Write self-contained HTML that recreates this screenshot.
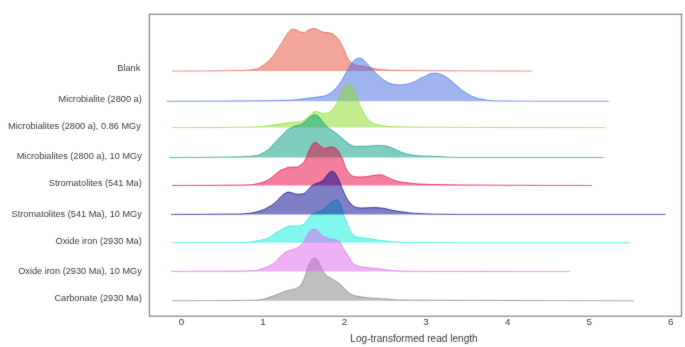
<!DOCTYPE html>
<html><head><meta charset="utf-8"><style>
html,body{margin:0;padding:0;background:#fff;}
body{width:685px;height:347px;overflow:hidden;position:relative;font-family:"Liberation Sans",sans-serif;}
svg{position:absolute;left:0;top:0;}
text{font-family:"Liberation Sans",sans-serif;}
</style></head><body>
<svg width="685" height="347" viewBox="0 0 685 347">
<defs><filter id="bl" x="0" y="0" width="685" height="347" filterUnits="userSpaceOnUse" color-interpolation-filters="sRGB"><feConvolveMatrix order="3" kernelMatrix="1 2 1 2 24 2 1 2 1" edgeMode="duplicate" preserveAlpha="true"/></filter></defs><g filter="url(#bl)">
<rect x="0" y="0" width="685" height="347" fill="#fff"/>
<path d="M171.80,71.10 C194.53,71.10 217.27,70.97 240.00,70.60 C243.50,70.54 247.00,70.25 250.50,69.90 C252.83,69.67 255.17,69.34 257.50,68.70 C259.07,68.27 260.63,67.04 262.20,66.00 C264.60,64.41 267.00,62.56 269.40,60.20 C271.33,58.30 273.27,55.65 275.20,53.00 C277.10,50.40 279.00,47.35 280.90,44.30 C282.60,41.57 284.30,38.21 286.00,35.70 C287.20,33.92 288.40,31.80 289.60,30.90 C290.67,30.10 291.73,29.20 292.80,29.20 C293.90,29.20 295.00,29.57 296.10,29.90 C297.30,30.26 298.50,31.54 299.70,31.80 C301.23,32.13 302.77,32.40 304.30,32.40 C305.73,32.40 307.17,30.44 308.60,29.90 C310.30,29.26 312.00,28.50 313.70,28.50 C315.37,28.50 317.03,29.29 318.70,29.90 C320.13,30.42 321.57,31.81 323.00,32.10 C324.93,32.49 326.87,32.45 328.80,32.80 C330.23,33.06 331.67,33.52 333.10,34.20 C334.70,34.96 336.30,36.69 337.90,38.60 C339.33,40.31 340.77,43.04 342.20,45.80 C343.13,47.60 344.07,49.84 345.00,52.00 C345.87,54.01 346.73,56.80 347.60,58.30 C348.47,59.80 349.33,60.90 350.20,61.80 C351.23,62.88 352.27,63.93 353.30,64.40 C354.73,65.05 356.17,65.50 357.60,65.70 C359.03,65.90 360.47,65.93 361.90,66.10 C363.27,66.26 364.63,66.54 366.00,66.80 C368.33,67.24 370.67,67.86 373.00,68.30 C375.33,68.74 377.67,69.29 380.00,69.50 C386.83,70.11 393.67,70.53 400.50,70.60 C420.33,70.81 440.17,70.83 460.00,70.90 C483.87,70.99 507.73,71.06 531.60,71.10 L531.60,71.10 L171.80,71.10 Z" fill="#e44c38" fill-opacity="0.5"/>
<path d="M171.80,71.10 L531.60,71.10" stroke="#e44c38" stroke-opacity="0.0" stroke-width="1.0" fill="none"/>
<path d="M171.80,71.10 C194.53,71.10 217.27,70.97 240.00,70.60 C243.50,70.54 247.00,70.25 250.50,69.90 C252.83,69.67 255.17,69.34 257.50,68.70 C259.07,68.27 260.63,67.04 262.20,66.00 C264.60,64.41 267.00,62.56 269.40,60.20 C271.33,58.30 273.27,55.65 275.20,53.00 C277.10,50.40 279.00,47.35 280.90,44.30 C282.60,41.57 284.30,38.21 286.00,35.70 C287.20,33.92 288.40,31.80 289.60,30.90 C290.67,30.10 291.73,29.20 292.80,29.20 C293.90,29.20 295.00,29.57 296.10,29.90 C297.30,30.26 298.50,31.54 299.70,31.80 C301.23,32.13 302.77,32.40 304.30,32.40 C305.73,32.40 307.17,30.44 308.60,29.90 C310.30,29.26 312.00,28.50 313.70,28.50 C315.37,28.50 317.03,29.29 318.70,29.90 C320.13,30.42 321.57,31.81 323.00,32.10 C324.93,32.49 326.87,32.45 328.80,32.80 C330.23,33.06 331.67,33.52 333.10,34.20 C334.70,34.96 336.30,36.69 337.90,38.60 C339.33,40.31 340.77,43.04 342.20,45.80 C343.13,47.60 344.07,49.84 345.00,52.00 C345.87,54.01 346.73,56.80 347.60,58.30 C348.47,59.80 349.33,60.90 350.20,61.80 C351.23,62.88 352.27,63.93 353.30,64.40 C354.73,65.05 356.17,65.50 357.60,65.70 C359.03,65.90 360.47,65.93 361.90,66.10 C363.27,66.26 364.63,66.54 366.00,66.80 C368.33,67.24 370.67,67.86 373.00,68.30 C375.33,68.74 377.67,69.29 380.00,69.50 C386.83,70.11 393.67,70.53 400.50,70.60 C420.33,70.81 440.17,70.83 460.00,70.90 C483.87,70.99 507.73,71.06 531.60,71.10" stroke="#e24428" stroke-opacity="0.7" stroke-width="0.85" fill="none" stroke-linejoin="round"/>
<path d="M166.90,101.25 C197.93,101.25 228.97,101.07 260.00,100.80 C268.77,100.72 277.53,100.55 286.30,100.30 C289.20,100.22 292.10,100.10 295.00,99.90 C297.90,99.70 300.80,99.17 303.70,98.80 C306.57,98.44 309.43,98.06 312.30,97.70 C315.20,97.33 318.10,97.05 321.00,96.60 C322.43,96.38 323.87,96.19 325.30,95.80 C326.73,95.41 328.17,94.47 329.60,93.60 C330.77,92.89 331.93,91.99 333.10,91.00 C334.40,89.89 335.70,88.59 337.00,87.10 C338.17,85.76 339.33,84.14 340.50,82.40 C341.63,80.71 342.77,78.67 343.90,76.70 C344.73,75.25 345.57,73.65 346.40,72.20 C347.43,70.40 348.47,68.62 349.50,67.00 C350.50,65.44 351.50,63.92 352.50,62.60 C353.33,61.50 354.17,60.14 355.00,59.60 C356.17,58.84 357.33,58.10 358.50,58.10 C359.63,58.10 360.77,58.43 361.90,58.80 C363.20,59.23 364.50,60.93 365.80,62.20 C367.70,64.06 369.60,66.68 371.50,68.70 C373.43,70.76 375.37,72.71 377.30,74.50 C379.23,76.29 381.17,78.10 383.10,79.50 C385.03,80.90 386.97,82.39 388.90,83.10 C390.80,83.80 392.70,84.39 394.60,84.60 C396.53,84.81 398.47,85.00 400.40,85.00 C402.27,85.00 404.13,84.48 406.00,84.20 C407.03,84.04 408.07,83.93 409.10,83.70 C410.13,83.47 411.17,83.00 412.20,82.60 C413.23,82.20 414.27,81.80 415.30,81.30 C416.33,80.80 417.37,80.09 418.40,79.50 C419.47,78.89 420.53,78.14 421.60,77.70 C422.40,77.37 423.20,77.21 424.00,76.90 C426.10,76.08 428.20,73.99 430.30,73.70 C431.93,73.48 433.57,73.30 435.20,73.30 C436.80,73.30 438.40,73.71 440.00,74.10 C441.63,74.50 443.27,75.41 444.90,76.30 C446.50,77.17 448.10,78.37 449.70,79.60 C451.30,80.83 452.90,82.41 454.50,83.80 C456.13,85.21 457.77,86.67 459.40,88.00 C461.00,89.30 462.60,90.61 464.20,91.70 C465.83,92.82 467.47,93.80 469.10,94.70 C470.70,95.58 472.30,96.47 473.90,97.10 C475.53,97.75 477.17,98.32 478.80,98.70 C480.87,99.18 482.93,99.36 485.00,99.80 C485.53,99.91 486.07,100.14 486.60,100.20 C490.67,100.65 494.73,100.83 498.80,100.90 C512.53,101.13 526.27,101.25 540.00,101.25 C562.93,101.25 585.87,101.25 608.80,101.25 L608.80,101.20 L166.90,101.20 Z" fill="#4169e1" fill-opacity="0.5"/>
<path d="M166.90,101.20 L608.80,101.20" stroke="#4169e1" stroke-opacity="0.0" stroke-width="1.0" fill="none"/>
<path d="M166.90,101.25 C197.93,101.25 228.97,101.07 260.00,100.80 C268.77,100.72 277.53,100.55 286.30,100.30 C289.20,100.22 292.10,100.10 295.00,99.90 C297.90,99.70 300.80,99.17 303.70,98.80 C306.57,98.44 309.43,98.06 312.30,97.70 C315.20,97.33 318.10,97.05 321.00,96.60 C322.43,96.38 323.87,96.19 325.30,95.80 C326.73,95.41 328.17,94.47 329.60,93.60 C330.77,92.89 331.93,91.99 333.10,91.00 C334.40,89.89 335.70,88.59 337.00,87.10 C338.17,85.76 339.33,84.14 340.50,82.40 C341.63,80.71 342.77,78.67 343.90,76.70 C344.73,75.25 345.57,73.65 346.40,72.20 C347.43,70.40 348.47,68.62 349.50,67.00 C350.50,65.44 351.50,63.92 352.50,62.60 C353.33,61.50 354.17,60.14 355.00,59.60 C356.17,58.84 357.33,58.10 358.50,58.10 C359.63,58.10 360.77,58.43 361.90,58.80 C363.20,59.23 364.50,60.93 365.80,62.20 C367.70,64.06 369.60,66.68 371.50,68.70 C373.43,70.76 375.37,72.71 377.30,74.50 C379.23,76.29 381.17,78.10 383.10,79.50 C385.03,80.90 386.97,82.39 388.90,83.10 C390.80,83.80 392.70,84.39 394.60,84.60 C396.53,84.81 398.47,85.00 400.40,85.00 C402.27,85.00 404.13,84.48 406.00,84.20 C407.03,84.04 408.07,83.93 409.10,83.70 C410.13,83.47 411.17,83.00 412.20,82.60 C413.23,82.20 414.27,81.80 415.30,81.30 C416.33,80.80 417.37,80.09 418.40,79.50 C419.47,78.89 420.53,78.14 421.60,77.70 C422.40,77.37 423.20,77.21 424.00,76.90 C426.10,76.08 428.20,73.99 430.30,73.70 C431.93,73.48 433.57,73.30 435.20,73.30 C436.80,73.30 438.40,73.71 440.00,74.10 C441.63,74.50 443.27,75.41 444.90,76.30 C446.50,77.17 448.10,78.37 449.70,79.60 C451.30,80.83 452.90,82.41 454.50,83.80 C456.13,85.21 457.77,86.67 459.40,88.00 C461.00,89.30 462.60,90.61 464.20,91.70 C465.83,92.82 467.47,93.80 469.10,94.70 C470.70,95.58 472.30,96.47 473.90,97.10 C475.53,97.75 477.17,98.32 478.80,98.70 C480.87,99.18 482.93,99.36 485.00,99.80 C485.53,99.91 486.07,100.14 486.60,100.20 C490.67,100.65 494.73,100.83 498.80,100.90 C512.53,101.13 526.27,101.25 540.00,101.25 C562.93,101.25 585.87,101.25 608.80,101.25" stroke="#4169e1" stroke-opacity="0.8" stroke-width="0.85" fill="none" stroke-linejoin="round"/>
<path d="M172.60,127.60 C198.40,127.60 224.20,127.51 250.00,127.20 C255.33,127.14 260.67,126.53 266.00,126.00 C268.23,125.78 270.47,125.42 272.70,125.10 C274.93,124.78 277.17,124.43 279.40,124.10 C281.63,123.77 283.87,123.46 286.10,123.10 C287.67,122.85 289.23,122.40 290.80,122.30 C292.60,122.19 294.40,122.18 296.20,122.10 C297.77,122.03 299.33,121.99 300.90,121.80 C302.03,121.67 303.17,120.80 304.30,120.10 C305.40,119.42 306.50,118.31 307.60,117.40 C309.07,116.18 310.53,115.16 312.00,113.70 C312.47,113.24 312.93,112.32 313.40,112.10 C314.27,111.70 315.13,111.40 316.00,111.40 C317.13,111.40 318.27,112.18 319.40,112.50 C320.57,112.83 321.73,113.40 322.90,113.40 C324.30,113.40 325.70,113.33 327.10,113.20 C327.97,113.12 328.83,112.44 329.70,111.90 C330.57,111.36 331.43,110.64 332.30,109.80 C333.00,109.12 333.70,108.28 334.40,107.30 C335.00,106.46 335.60,105.38 336.20,104.30 C336.70,103.40 337.20,102.46 337.70,101.40 C338.72,99.24 339.73,96.03 340.75,94.00 C341.93,91.63 343.12,89.66 344.30,88.00 C345.07,86.93 345.83,85.63 346.60,85.20 C347.23,84.85 347.87,84.50 348.50,84.50 C349.07,84.50 349.63,84.74 350.20,85.00 C350.70,85.23 351.20,85.88 351.70,86.50 C352.67,87.69 353.63,89.53 354.60,91.50 C355.57,93.47 356.53,96.26 357.50,98.70 C358.43,101.06 359.37,103.79 360.30,105.90 C361.50,108.61 362.70,111.05 363.90,113.10 C365.37,115.60 366.83,118.12 368.30,119.60 C369.87,121.19 371.43,122.52 373.00,123.20 C375.43,124.25 377.87,124.89 380.30,125.30 C384.40,125.99 388.50,126.60 392.60,126.70 C415.07,127.23 437.53,127.34 460.00,127.40 C508.53,127.53 557.07,127.60 605.60,127.60 L605.60,127.60 L172.60,127.60 Z" fill="#87dd20" fill-opacity="0.5"/>
<path d="M172.60,127.60 L605.60,127.60" stroke="#87dd20" stroke-opacity="0.0" stroke-width="1.0" fill="none"/>
<path d="M172.60,127.60 C198.40,127.60 224.20,127.51 250.00,127.20 C255.33,127.14 260.67,126.53 266.00,126.00 C268.23,125.78 270.47,125.42 272.70,125.10 C274.93,124.78 277.17,124.43 279.40,124.10 C281.63,123.77 283.87,123.46 286.10,123.10 C287.67,122.85 289.23,122.40 290.80,122.30 C292.60,122.19 294.40,122.18 296.20,122.10 C297.77,122.03 299.33,121.99 300.90,121.80 C302.03,121.67 303.17,120.80 304.30,120.10 C305.40,119.42 306.50,118.31 307.60,117.40 C309.07,116.18 310.53,115.16 312.00,113.70 C312.47,113.24 312.93,112.32 313.40,112.10 C314.27,111.70 315.13,111.40 316.00,111.40 C317.13,111.40 318.27,112.18 319.40,112.50 C320.57,112.83 321.73,113.40 322.90,113.40 C324.30,113.40 325.70,113.33 327.10,113.20 C327.97,113.12 328.83,112.44 329.70,111.90 C330.57,111.36 331.43,110.64 332.30,109.80 C333.00,109.12 333.70,108.28 334.40,107.30 C335.00,106.46 335.60,105.38 336.20,104.30 C336.70,103.40 337.20,102.46 337.70,101.40 C338.72,99.24 339.73,96.03 340.75,94.00 C341.93,91.63 343.12,89.66 344.30,88.00 C345.07,86.93 345.83,85.63 346.60,85.20 C347.23,84.85 347.87,84.50 348.50,84.50 C349.07,84.50 349.63,84.74 350.20,85.00 C350.70,85.23 351.20,85.88 351.70,86.50 C352.67,87.69 353.63,89.53 354.60,91.50 C355.57,93.47 356.53,96.26 357.50,98.70 C358.43,101.06 359.37,103.79 360.30,105.90 C361.50,108.61 362.70,111.05 363.90,113.10 C365.37,115.60 366.83,118.12 368.30,119.60 C369.87,121.19 371.43,122.52 373.00,123.20 C375.43,124.25 377.87,124.89 380.30,125.30 C384.40,125.99 388.50,126.60 392.60,126.70 C415.07,127.23 437.53,127.34 460.00,127.40 C508.53,127.53 557.07,127.60 605.60,127.60" stroke="#87dd20" stroke-opacity="0.8" stroke-width="0.85" fill="none" stroke-linejoin="round"/>
<path d="M169.30,157.55 C194.53,157.55 219.77,157.33 245.00,156.70 C247.17,156.65 249.33,156.41 251.50,156.20 C253.67,155.99 255.83,155.84 258.00,155.40 C259.33,155.13 260.67,154.20 262.00,153.50 C263.93,152.48 265.87,151.46 267.80,150.00 C269.70,148.57 271.60,146.29 273.50,144.30 C275.43,142.27 277.37,139.92 279.30,137.90 C280.83,136.29 282.37,134.81 283.90,133.30 C285.07,132.15 286.23,130.70 287.40,129.90 C288.53,129.12 289.67,128.67 290.80,128.10 C292.27,127.36 293.73,126.43 295.20,126.00 C296.93,125.49 298.67,125.47 300.40,124.90 C301.53,124.53 302.67,123.66 303.80,122.80 C304.97,121.91 306.13,120.38 307.30,119.30 C308.30,118.37 309.30,117.33 310.30,116.70 C311.03,116.24 311.77,116.03 312.50,115.60 C312.93,115.34 313.37,114.70 313.80,114.70 C314.23,114.70 314.67,114.81 315.10,114.90 C315.97,115.09 316.83,115.48 317.70,116.00 C318.57,116.52 319.43,117.61 320.30,118.60 C321.17,119.59 322.03,121.02 322.90,122.10 C323.77,123.18 324.63,124.17 325.50,125.10 C326.37,126.03 327.23,127.01 328.10,127.70 C328.90,128.34 329.70,128.76 330.50,129.30 C331.87,130.22 333.23,131.09 334.60,132.10 C336.00,133.14 337.40,134.34 338.80,135.50 C340.17,136.64 341.53,137.85 342.90,139.00 C344.30,140.18 345.70,141.47 347.10,142.50 C348.47,143.50 349.83,144.69 351.20,145.20 C352.60,145.73 354.00,146.30 355.40,146.30 C357.23,146.30 359.07,146.30 360.90,146.30 C363.50,146.30 366.10,146.20 368.70,146.10 C372.07,145.98 375.43,145.40 378.80,145.40 C381.20,145.40 383.60,145.74 386.00,146.10 C387.90,146.38 389.80,147.12 391.70,147.80 C393.63,148.49 395.57,149.53 397.50,150.40 C399.43,151.27 401.37,152.40 403.30,153.00 C405.70,153.75 408.10,154.30 410.50,154.70 C413.67,155.23 416.83,155.74 420.00,155.90 C425.47,156.18 430.93,156.20 436.40,156.40 C444.27,156.69 452.13,157.55 460.00,157.55 C507.87,157.55 555.73,157.55 603.60,157.55 L603.60,157.60 L169.30,157.60 Z" fill="#009b7d" fill-opacity="0.5"/>
<path d="M169.30,157.60 L603.60,157.60" stroke="#009b7d" stroke-opacity="0.0" stroke-width="1.0" fill="none"/>
<path d="M169.30,157.55 C194.53,157.55 219.77,157.33 245.00,156.70 C247.17,156.65 249.33,156.41 251.50,156.20 C253.67,155.99 255.83,155.84 258.00,155.40 C259.33,155.13 260.67,154.20 262.00,153.50 C263.93,152.48 265.87,151.46 267.80,150.00 C269.70,148.57 271.60,146.29 273.50,144.30 C275.43,142.27 277.37,139.92 279.30,137.90 C280.83,136.29 282.37,134.81 283.90,133.30 C285.07,132.15 286.23,130.70 287.40,129.90 C288.53,129.12 289.67,128.67 290.80,128.10 C292.27,127.36 293.73,126.43 295.20,126.00 C296.93,125.49 298.67,125.47 300.40,124.90 C301.53,124.53 302.67,123.66 303.80,122.80 C304.97,121.91 306.13,120.38 307.30,119.30 C308.30,118.37 309.30,117.33 310.30,116.70 C311.03,116.24 311.77,116.03 312.50,115.60 C312.93,115.34 313.37,114.70 313.80,114.70 C314.23,114.70 314.67,114.81 315.10,114.90 C315.97,115.09 316.83,115.48 317.70,116.00 C318.57,116.52 319.43,117.61 320.30,118.60 C321.17,119.59 322.03,121.02 322.90,122.10 C323.77,123.18 324.63,124.17 325.50,125.10 C326.37,126.03 327.23,127.01 328.10,127.70 C328.90,128.34 329.70,128.76 330.50,129.30 C331.87,130.22 333.23,131.09 334.60,132.10 C336.00,133.14 337.40,134.34 338.80,135.50 C340.17,136.64 341.53,137.85 342.90,139.00 C344.30,140.18 345.70,141.47 347.10,142.50 C348.47,143.50 349.83,144.69 351.20,145.20 C352.60,145.73 354.00,146.30 355.40,146.30 C357.23,146.30 359.07,146.30 360.90,146.30 C363.50,146.30 366.10,146.20 368.70,146.10 C372.07,145.98 375.43,145.40 378.80,145.40 C381.20,145.40 383.60,145.74 386.00,146.10 C387.90,146.38 389.80,147.12 391.70,147.80 C393.63,148.49 395.57,149.53 397.50,150.40 C399.43,151.27 401.37,152.40 403.30,153.00 C405.70,153.75 408.10,154.30 410.50,154.70 C413.67,155.23 416.83,155.74 420.00,155.90 C425.47,156.18 430.93,156.20 436.40,156.40 C444.27,156.69 452.13,157.55 460.00,157.55 C507.87,157.55 555.73,157.55 603.60,157.55" stroke="#009b7d" stroke-opacity="0.8" stroke-width="0.85" fill="none" stroke-linejoin="round"/>
<path d="M172.00,185.50 C194.67,185.50 217.33,185.37 240.00,185.10 C243.33,185.06 246.67,184.97 250.00,184.80 C252.00,184.70 254.00,184.35 256.00,184.00 C257.50,183.74 259.00,183.32 260.50,182.90 C262.00,182.48 263.50,182.01 265.00,181.40 C266.50,180.79 268.00,180.04 269.50,179.10 C270.77,178.31 272.03,177.16 273.30,176.10 C274.53,175.07 275.77,173.78 277.00,172.80 C278.27,171.80 279.53,170.70 280.80,170.10 C282.53,169.28 284.27,169.07 286.00,168.30 C286.37,168.14 286.73,167.81 287.10,167.70 C288.13,167.38 289.17,167.10 290.20,167.10 C291.60,167.10 293.00,167.10 294.40,167.10 C295.43,167.10 296.47,167.03 297.50,166.90 C298.17,166.82 298.83,166.21 299.50,165.80 C300.20,165.37 300.90,164.88 301.60,164.30 C302.30,163.72 303.00,163.10 303.70,162.20 C304.20,161.56 304.70,160.44 305.20,159.60 C305.73,158.71 306.27,158.16 306.80,157.00 C307.23,156.06 307.67,154.02 308.10,152.90 C308.80,151.09 309.50,149.81 310.20,148.40 C310.87,147.06 311.53,145.47 312.20,144.60 C312.80,143.82 313.40,142.98 314.00,142.80 C314.57,142.63 315.13,142.50 315.70,142.50 C316.40,142.50 317.10,143.04 317.80,143.50 C318.47,143.94 319.13,144.98 319.80,145.60 C320.63,146.38 321.47,147.34 322.30,147.70 C323.10,148.05 323.90,148.40 324.70,148.40 C325.63,148.40 326.57,147.92 327.50,147.70 C328.40,147.49 329.30,147.10 330.20,147.10 C331.13,147.10 332.07,147.19 333.00,147.30 C333.93,147.41 334.87,147.85 335.80,148.40 C336.47,148.79 337.13,149.65 337.80,150.50 C338.50,151.39 339.20,152.64 339.90,153.90 C340.37,154.74 340.83,155.81 341.30,156.70 C341.83,157.72 342.37,158.35 342.90,159.60 C343.37,160.70 343.83,162.87 344.30,164.20 C344.93,166.00 345.57,167.68 346.20,168.90 C346.97,170.38 347.73,171.54 348.50,172.50 C349.40,173.63 350.30,174.75 351.20,175.30 C352.30,175.97 353.40,176.57 354.50,176.70 C356.03,176.88 357.57,177.00 359.10,177.00 C361.40,177.00 363.70,176.88 366.00,176.70 C366.93,176.63 367.87,176.35 368.80,176.20 C370.83,175.87 372.87,175.54 374.90,175.30 C376.63,175.10 378.37,174.80 380.10,174.80 C381.27,174.80 382.43,175.17 383.60,175.50 C385.07,175.91 386.53,177.03 388.00,177.70 C389.77,178.50 391.53,179.28 393.30,179.90 C395.03,180.51 396.77,181.11 398.50,181.50 C400.83,182.02 403.17,182.41 405.50,182.70 C407.83,182.99 410.17,183.17 412.50,183.40 C415.00,183.64 417.50,184.00 420.00,184.10 C433.33,184.62 446.67,184.79 460.00,184.90 C503.97,185.27 547.93,185.50 591.90,185.50 L591.90,185.50 L172.00,185.50 Z" fill="#e5003b" fill-opacity="0.5"/>
<path d="M172.00,185.50 L591.90,185.50" stroke="#e5003b" stroke-opacity="0.0" stroke-width="1.0" fill="none"/>
<path d="M172.00,185.50 C194.67,185.50 217.33,185.37 240.00,185.10 C243.33,185.06 246.67,184.97 250.00,184.80 C252.00,184.70 254.00,184.35 256.00,184.00 C257.50,183.74 259.00,183.32 260.50,182.90 C262.00,182.48 263.50,182.01 265.00,181.40 C266.50,180.79 268.00,180.04 269.50,179.10 C270.77,178.31 272.03,177.16 273.30,176.10 C274.53,175.07 275.77,173.78 277.00,172.80 C278.27,171.80 279.53,170.70 280.80,170.10 C282.53,169.28 284.27,169.07 286.00,168.30 C286.37,168.14 286.73,167.81 287.10,167.70 C288.13,167.38 289.17,167.10 290.20,167.10 C291.60,167.10 293.00,167.10 294.40,167.10 C295.43,167.10 296.47,167.03 297.50,166.90 C298.17,166.82 298.83,166.21 299.50,165.80 C300.20,165.37 300.90,164.88 301.60,164.30 C302.30,163.72 303.00,163.10 303.70,162.20 C304.20,161.56 304.70,160.44 305.20,159.60 C305.73,158.71 306.27,158.16 306.80,157.00 C307.23,156.06 307.67,154.02 308.10,152.90 C308.80,151.09 309.50,149.81 310.20,148.40 C310.87,147.06 311.53,145.47 312.20,144.60 C312.80,143.82 313.40,142.98 314.00,142.80 C314.57,142.63 315.13,142.50 315.70,142.50 C316.40,142.50 317.10,143.04 317.80,143.50 C318.47,143.94 319.13,144.98 319.80,145.60 C320.63,146.38 321.47,147.34 322.30,147.70 C323.10,148.05 323.90,148.40 324.70,148.40 C325.63,148.40 326.57,147.92 327.50,147.70 C328.40,147.49 329.30,147.10 330.20,147.10 C331.13,147.10 332.07,147.19 333.00,147.30 C333.93,147.41 334.87,147.85 335.80,148.40 C336.47,148.79 337.13,149.65 337.80,150.50 C338.50,151.39 339.20,152.64 339.90,153.90 C340.37,154.74 340.83,155.81 341.30,156.70 C341.83,157.72 342.37,158.35 342.90,159.60 C343.37,160.70 343.83,162.87 344.30,164.20 C344.93,166.00 345.57,167.68 346.20,168.90 C346.97,170.38 347.73,171.54 348.50,172.50 C349.40,173.63 350.30,174.75 351.20,175.30 C352.30,175.97 353.40,176.57 354.50,176.70 C356.03,176.88 357.57,177.00 359.10,177.00 C361.40,177.00 363.70,176.88 366.00,176.70 C366.93,176.63 367.87,176.35 368.80,176.20 C370.83,175.87 372.87,175.54 374.90,175.30 C376.63,175.10 378.37,174.80 380.10,174.80 C381.27,174.80 382.43,175.17 383.60,175.50 C385.07,175.91 386.53,177.03 388.00,177.70 C389.77,178.50 391.53,179.28 393.30,179.90 C395.03,180.51 396.77,181.11 398.50,181.50 C400.83,182.02 403.17,182.41 405.50,182.70 C407.83,182.99 410.17,183.17 412.50,183.40 C415.00,183.64 417.50,184.00 420.00,184.10 C433.33,184.62 446.67,184.79 460.00,184.90 C503.97,185.27 547.93,185.50 591.90,185.50" stroke="#e5003b" stroke-opacity="0.8" stroke-width="0.85" fill="none" stroke-linejoin="round"/>
<path d="M172.00,242.80 C194.67,242.80 217.33,242.75 240.00,242.60 C242.67,242.58 245.33,242.52 248.00,242.40 C250.67,242.28 253.33,241.58 256.00,241.10 C258.00,240.74 260.00,240.36 262.00,239.90 C264.00,239.44 266.00,239.07 268.00,238.30 C269.00,237.91 270.00,237.19 271.00,236.50 C272.00,235.81 273.00,234.77 274.00,234.10 C275.33,233.20 276.67,232.61 278.00,231.80 C279.33,230.99 280.67,229.95 282.00,229.20 C283.33,228.45 284.67,227.70 286.00,227.20 C287.33,226.70 288.67,226.00 290.00,226.00 C291.03,226.00 292.07,226.00 293.10,226.00 C294.63,226.00 296.17,226.00 297.70,226.00 C298.83,226.00 299.97,225.76 301.10,225.50 C302.27,225.23 303.43,224.44 304.60,223.50 C305.77,222.56 306.93,220.26 308.10,218.80 C309.23,217.38 310.37,215.58 311.50,214.80 C312.67,214.00 313.83,213.73 315.00,213.10 C315.93,212.59 316.87,211.65 317.80,211.40 C319.23,211.02 320.67,211.10 322.10,210.70 C323.53,210.30 324.97,207.62 326.40,206.30 C327.83,204.98 329.27,203.65 330.70,202.70 C332.17,201.73 333.63,200.69 335.10,200.30 C335.80,200.11 336.50,199.90 337.20,199.90 C338.17,199.90 339.13,201.85 340.10,203.50 C340.83,204.75 341.57,206.87 342.30,209.20 C342.87,211.00 343.43,214.48 344.00,216.00 C344.40,217.08 344.80,217.58 345.20,218.50 C346.33,221.11 347.47,225.29 348.60,227.70 C349.77,230.18 350.93,232.46 352.10,233.80 C353.27,235.14 354.43,236.48 355.60,236.80 C356.83,237.14 358.07,237.22 359.30,237.40 C362.80,237.92 366.30,238.31 369.80,238.80 C374.47,239.46 379.13,240.41 383.80,240.90 C389.63,241.52 395.47,242.19 401.30,242.30 C420.87,242.65 440.43,242.80 460.00,242.80 C516.53,242.80 573.07,242.80 629.60,242.80 L629.60,242.80 L172.00,242.80 Z" fill="#05f0dc" fill-opacity="0.5"/>
<path d="M172.00,242.80 L629.60,242.80" stroke="#05f0dc" stroke-opacity="0.0" stroke-width="1.0" fill="none"/>
<path d="M172.00,242.80 C194.67,242.80 217.33,242.75 240.00,242.60 C242.67,242.58 245.33,242.52 248.00,242.40 C250.67,242.28 253.33,241.58 256.00,241.10 C258.00,240.74 260.00,240.36 262.00,239.90 C264.00,239.44 266.00,239.07 268.00,238.30 C269.00,237.91 270.00,237.19 271.00,236.50 C272.00,235.81 273.00,234.77 274.00,234.10 C275.33,233.20 276.67,232.61 278.00,231.80 C279.33,230.99 280.67,229.95 282.00,229.20 C283.33,228.45 284.67,227.70 286.00,227.20 C287.33,226.70 288.67,226.00 290.00,226.00 C291.03,226.00 292.07,226.00 293.10,226.00 C294.63,226.00 296.17,226.00 297.70,226.00 C298.83,226.00 299.97,225.76 301.10,225.50 C302.27,225.23 303.43,224.44 304.60,223.50 C305.77,222.56 306.93,220.26 308.10,218.80 C309.23,217.38 310.37,215.58 311.50,214.80 C312.67,214.00 313.83,213.73 315.00,213.10 C315.93,212.59 316.87,211.65 317.80,211.40 C319.23,211.02 320.67,211.10 322.10,210.70 C323.53,210.30 324.97,207.62 326.40,206.30 C327.83,204.98 329.27,203.65 330.70,202.70 C332.17,201.73 333.63,200.69 335.10,200.30 C335.80,200.11 336.50,199.90 337.20,199.90 C338.17,199.90 339.13,201.85 340.10,203.50 C340.83,204.75 341.57,206.87 342.30,209.20 C342.87,211.00 343.43,214.48 344.00,216.00 C344.40,217.08 344.80,217.58 345.20,218.50 C346.33,221.11 347.47,225.29 348.60,227.70 C349.77,230.18 350.93,232.46 352.10,233.80 C353.27,235.14 354.43,236.48 355.60,236.80 C356.83,237.14 358.07,237.22 359.30,237.40 C362.80,237.92 366.30,238.31 369.80,238.80 C374.47,239.46 379.13,240.41 383.80,240.90 C389.63,241.52 395.47,242.19 401.30,242.30 C420.87,242.65 440.43,242.80 460.00,242.80 C516.53,242.80 573.07,242.80 629.60,242.80" stroke="#05f0dc" stroke-opacity="0.8" stroke-width="0.85" fill="none" stroke-linejoin="round"/>
<path d="M171.00,214.40 C194.00,214.40 217.00,214.32 240.00,214.00 C243.33,213.95 246.67,213.59 250.00,213.20 C252.67,212.89 255.33,212.28 258.00,211.60 C259.50,211.22 261.00,210.69 262.50,210.10 C264.00,209.51 265.50,208.69 267.00,207.90 C268.50,207.11 270.00,206.28 271.50,205.30 C273.00,204.32 274.50,203.24 276.00,201.90 C277.27,200.77 278.53,199.11 279.80,197.80 C280.80,196.76 281.80,195.58 282.80,194.80 C283.80,194.02 284.80,193.36 285.80,192.90 C286.53,192.57 287.27,192.10 288.00,192.10 C289.03,192.10 290.07,192.38 291.10,192.60 C292.20,192.84 293.30,193.51 294.40,193.70 C295.87,193.95 297.33,194.20 298.80,194.20 C300.27,194.20 301.73,194.05 303.20,193.80 C304.27,193.62 305.33,192.44 306.40,191.50 C307.23,190.76 308.07,189.58 308.90,188.70 C309.77,187.78 310.63,186.76 311.50,186.10 C312.53,185.31 313.57,184.66 314.60,184.20 C315.73,183.69 316.87,183.35 318.00,183.00 C318.58,182.82 319.17,182.72 319.75,182.50 C321.00,182.02 322.25,181.03 323.50,179.90 C324.75,178.77 326.00,176.41 327.25,175.00 C328.25,173.87 329.25,172.47 330.25,172.00 C330.87,171.71 331.48,171.40 332.10,171.40 C332.98,171.40 333.87,172.05 334.75,172.75 C335.50,173.34 336.25,175.14 337.00,176.50 C337.75,177.86 338.50,179.28 339.25,181.00 C339.63,181.88 340.02,183.04 340.40,184.00 C341.07,185.67 341.73,187.22 342.40,188.80 C343.10,190.46 343.80,192.19 344.50,193.70 C345.30,195.43 346.10,197.13 346.90,198.50 C347.70,199.87 348.50,201.11 349.30,202.10 C350.37,203.42 351.43,204.67 352.50,205.40 C353.83,206.31 355.17,207.13 356.50,207.40 C358.13,207.73 359.77,208.00 361.40,208.00 C363.60,208.00 365.80,207.87 368.00,207.80 C370.27,207.73 372.53,207.60 374.80,207.60 C377.70,207.60 380.60,207.96 383.50,208.30 C386.43,208.65 389.37,209.72 392.30,210.30 C395.20,210.87 398.10,211.38 401.00,211.80 C403.93,212.23 406.87,212.61 409.80,212.90 C412.70,213.18 415.60,213.45 418.50,213.60 C421.00,213.73 423.50,213.84 426.00,213.90 C437.33,214.17 448.67,214.40 460.00,214.40 C528.53,214.40 597.07,214.40 665.60,214.40 L665.60,214.50 L171.00,214.50 Z" fill="#00008b" fill-opacity="0.5"/>
<path d="M171.00,214.50 L665.60,214.50" stroke="#00008b" stroke-opacity="0.0" stroke-width="1.0" fill="none"/>
<path d="M171.00,214.40 C194.00,214.40 217.00,214.32 240.00,214.00 C243.33,213.95 246.67,213.59 250.00,213.20 C252.67,212.89 255.33,212.28 258.00,211.60 C259.50,211.22 261.00,210.69 262.50,210.10 C264.00,209.51 265.50,208.69 267.00,207.90 C268.50,207.11 270.00,206.28 271.50,205.30 C273.00,204.32 274.50,203.24 276.00,201.90 C277.27,200.77 278.53,199.11 279.80,197.80 C280.80,196.76 281.80,195.58 282.80,194.80 C283.80,194.02 284.80,193.36 285.80,192.90 C286.53,192.57 287.27,192.10 288.00,192.10 C289.03,192.10 290.07,192.38 291.10,192.60 C292.20,192.84 293.30,193.51 294.40,193.70 C295.87,193.95 297.33,194.20 298.80,194.20 C300.27,194.20 301.73,194.05 303.20,193.80 C304.27,193.62 305.33,192.44 306.40,191.50 C307.23,190.76 308.07,189.58 308.90,188.70 C309.77,187.78 310.63,186.76 311.50,186.10 C312.53,185.31 313.57,184.66 314.60,184.20 C315.73,183.69 316.87,183.35 318.00,183.00 C318.58,182.82 319.17,182.72 319.75,182.50 C321.00,182.02 322.25,181.03 323.50,179.90 C324.75,178.77 326.00,176.41 327.25,175.00 C328.25,173.87 329.25,172.47 330.25,172.00 C330.87,171.71 331.48,171.40 332.10,171.40 C332.98,171.40 333.87,172.05 334.75,172.75 C335.50,173.34 336.25,175.14 337.00,176.50 C337.75,177.86 338.50,179.28 339.25,181.00 C339.63,181.88 340.02,183.04 340.40,184.00 C341.07,185.67 341.73,187.22 342.40,188.80 C343.10,190.46 343.80,192.19 344.50,193.70 C345.30,195.43 346.10,197.13 346.90,198.50 C347.70,199.87 348.50,201.11 349.30,202.10 C350.37,203.42 351.43,204.67 352.50,205.40 C353.83,206.31 355.17,207.13 356.50,207.40 C358.13,207.73 359.77,208.00 361.40,208.00 C363.60,208.00 365.80,207.87 368.00,207.80 C370.27,207.73 372.53,207.60 374.80,207.60 C377.70,207.60 380.60,207.96 383.50,208.30 C386.43,208.65 389.37,209.72 392.30,210.30 C395.20,210.87 398.10,211.38 401.00,211.80 C403.93,212.23 406.87,212.61 409.80,212.90 C412.70,213.18 415.60,213.45 418.50,213.60 C421.00,213.73 423.50,213.84 426.00,213.90 C437.33,214.17 448.67,214.40 460.00,214.40 C528.53,214.40 597.07,214.40 665.60,214.40" stroke="#00008b" stroke-opacity="0.8" stroke-width="0.85" fill="none" stroke-linejoin="round"/>
<path d="M171.90,300.80 C194.60,300.80 217.30,300.69 240.00,300.50 C244.67,300.46 249.33,300.38 254.00,300.20 C256.67,300.10 259.33,299.80 262.00,299.40 C263.37,299.20 264.73,298.78 266.10,298.40 C267.50,298.01 268.90,297.47 270.30,297.00 C271.67,296.54 273.03,296.11 274.40,295.60 C275.80,295.08 277.20,294.47 278.60,293.90 C279.97,293.34 281.33,292.71 282.70,292.20 C284.10,291.68 285.50,291.17 286.90,290.80 C288.60,290.35 290.30,290.15 292.00,289.70 C294.13,289.13 296.27,288.64 298.40,287.40 C299.50,286.76 300.60,285.23 301.70,283.60 C302.60,282.26 303.50,280.30 304.40,278.10 C305.13,276.31 305.87,273.68 306.60,271.50 C307.33,269.32 308.07,266.68 308.80,265.00 C309.70,262.93 310.60,260.86 311.50,260.00 C312.43,259.11 313.37,258.20 314.30,258.20 C315.03,258.20 315.77,258.52 316.50,258.90 C317.00,259.16 317.50,259.79 318.00,260.60 C318.33,261.14 318.67,262.43 319.00,263.20 C319.73,264.90 320.47,266.30 321.20,267.70 C321.97,269.16 322.73,270.66 323.50,271.80 C324.50,273.29 325.50,274.78 326.50,275.60 C327.73,276.61 328.97,277.06 330.20,277.80 C331.47,278.56 332.73,279.35 334.00,280.10 C335.50,280.99 337.00,281.60 338.50,282.70 C340.00,283.80 341.50,285.70 343.00,287.20 C344.50,288.70 346.00,290.50 347.50,291.70 C349.00,292.90 350.50,294.06 352.00,294.70 C353.50,295.34 355.00,295.77 356.50,296.10 C358.33,296.50 360.17,296.74 362.00,297.00 C365.17,297.46 368.33,297.97 371.50,298.20 C376.20,298.54 380.90,298.59 385.60,298.90 C389.10,299.13 392.60,299.85 396.10,299.90 C417.40,300.22 438.70,300.21 460.00,300.30 C517.97,300.54 575.93,300.78 633.90,300.80 L633.90,300.80 L171.90,300.80 Z" fill="#808080" fill-opacity="0.5"/>
<path d="M171.90,300.80 L633.90,300.80" stroke="#808080" stroke-opacity="0.0" stroke-width="1.0" fill="none"/>
<path d="M171.90,300.80 C194.60,300.80 217.30,300.69 240.00,300.50 C244.67,300.46 249.33,300.38 254.00,300.20 C256.67,300.10 259.33,299.80 262.00,299.40 C263.37,299.20 264.73,298.78 266.10,298.40 C267.50,298.01 268.90,297.47 270.30,297.00 C271.67,296.54 273.03,296.11 274.40,295.60 C275.80,295.08 277.20,294.47 278.60,293.90 C279.97,293.34 281.33,292.71 282.70,292.20 C284.10,291.68 285.50,291.17 286.90,290.80 C288.60,290.35 290.30,290.15 292.00,289.70 C294.13,289.13 296.27,288.64 298.40,287.40 C299.50,286.76 300.60,285.23 301.70,283.60 C302.60,282.26 303.50,280.30 304.40,278.10 C305.13,276.31 305.87,273.68 306.60,271.50 C307.33,269.32 308.07,266.68 308.80,265.00 C309.70,262.93 310.60,260.86 311.50,260.00 C312.43,259.11 313.37,258.20 314.30,258.20 C315.03,258.20 315.77,258.52 316.50,258.90 C317.00,259.16 317.50,259.79 318.00,260.60 C318.33,261.14 318.67,262.43 319.00,263.20 C319.73,264.90 320.47,266.30 321.20,267.70 C321.97,269.16 322.73,270.66 323.50,271.80 C324.50,273.29 325.50,274.78 326.50,275.60 C327.73,276.61 328.97,277.06 330.20,277.80 C331.47,278.56 332.73,279.35 334.00,280.10 C335.50,280.99 337.00,281.60 338.50,282.70 C340.00,283.80 341.50,285.70 343.00,287.20 C344.50,288.70 346.00,290.50 347.50,291.70 C349.00,292.90 350.50,294.06 352.00,294.70 C353.50,295.34 355.00,295.77 356.50,296.10 C358.33,296.50 360.17,296.74 362.00,297.00 C365.17,297.46 368.33,297.97 371.50,298.20 C376.20,298.54 380.90,298.59 385.60,298.90 C389.10,299.13 392.60,299.85 396.10,299.90 C417.40,300.22 438.70,300.21 460.00,300.30 C517.97,300.54 575.93,300.78 633.90,300.80" stroke="#808080" stroke-opacity="0.8" stroke-width="0.85" fill="none" stroke-linejoin="round"/>
<path d="M171.00,271.40 C194.00,271.40 217.00,271.31 240.00,271.10 C245.00,271.05 250.00,270.93 255.00,270.60 C257.33,270.45 259.67,269.52 262.00,268.80 C263.60,268.31 265.20,267.68 266.80,267.00 C268.43,266.31 270.07,265.58 271.70,264.60 C273.07,263.78 274.43,262.72 275.80,261.50 C276.97,260.46 278.13,258.94 279.30,257.70 C280.03,256.92 280.77,256.10 281.50,255.40 C282.25,254.68 283.00,253.95 283.75,253.40 C285.00,252.48 286.25,251.60 287.50,251.10 C288.75,250.60 290.00,250.37 291.25,250.00 C292.50,249.63 293.75,249.36 295.00,248.90 C296.25,248.44 297.50,247.85 298.75,247.00 C299.75,246.32 300.75,245.08 301.75,244.00 C302.50,243.19 303.25,242.52 304.00,241.40 C304.50,240.65 305.00,239.33 305.50,238.40 C306.27,236.97 307.03,235.59 307.80,234.40 C308.57,233.21 309.33,231.94 310.10,231.20 C310.87,230.46 311.63,229.62 312.40,229.50 C313.17,229.38 313.93,229.30 314.70,229.30 C315.47,229.30 316.23,229.83 317.00,230.30 C317.77,230.77 318.53,231.87 319.30,232.70 C320.07,233.53 320.83,234.69 321.60,235.30 C322.37,235.91 323.13,236.32 323.90,236.70 C324.60,237.05 325.30,237.31 326.00,237.60 C327.43,238.19 328.87,239.09 330.30,239.30 C332.17,239.58 334.03,239.50 335.90,239.80 C336.63,239.92 337.37,240.28 338.10,240.70 C338.97,241.20 339.83,242.16 340.70,243.30 C341.40,244.22 342.10,245.93 342.80,247.20 C343.53,248.53 344.27,249.87 345.00,251.10 C345.73,252.33 346.47,253.50 347.20,254.60 C347.90,255.65 348.60,256.47 349.30,257.60 C350.03,258.78 350.77,260.73 351.50,261.70 C352.43,262.93 353.37,263.92 354.30,264.50 C355.43,265.20 356.57,265.68 357.70,266.00 C359.57,266.52 361.43,266.81 363.30,267.10 C365.13,267.38 366.97,267.60 368.80,267.80 C371.20,268.07 373.60,268.24 376.00,268.50 C381.53,269.10 387.07,270.26 392.60,270.60 C398.40,270.96 404.20,271.29 410.00,271.30 C463.17,271.39 516.33,271.40 569.50,271.40 L569.50,271.60 L171.00,271.60 Z" fill="#de64eb" fill-opacity="0.5"/>
<path d="M171.00,271.60 L569.50,271.60" stroke="#de64eb" stroke-opacity="0.0" stroke-width="1.0" fill="none"/>
<path d="M171.00,271.40 C194.00,271.40 217.00,271.31 240.00,271.10 C245.00,271.05 250.00,270.93 255.00,270.60 C257.33,270.45 259.67,269.52 262.00,268.80 C263.60,268.31 265.20,267.68 266.80,267.00 C268.43,266.31 270.07,265.58 271.70,264.60 C273.07,263.78 274.43,262.72 275.80,261.50 C276.97,260.46 278.13,258.94 279.30,257.70 C280.03,256.92 280.77,256.10 281.50,255.40 C282.25,254.68 283.00,253.95 283.75,253.40 C285.00,252.48 286.25,251.60 287.50,251.10 C288.75,250.60 290.00,250.37 291.25,250.00 C292.50,249.63 293.75,249.36 295.00,248.90 C296.25,248.44 297.50,247.85 298.75,247.00 C299.75,246.32 300.75,245.08 301.75,244.00 C302.50,243.19 303.25,242.52 304.00,241.40 C304.50,240.65 305.00,239.33 305.50,238.40 C306.27,236.97 307.03,235.59 307.80,234.40 C308.57,233.21 309.33,231.94 310.10,231.20 C310.87,230.46 311.63,229.62 312.40,229.50 C313.17,229.38 313.93,229.30 314.70,229.30 C315.47,229.30 316.23,229.83 317.00,230.30 C317.77,230.77 318.53,231.87 319.30,232.70 C320.07,233.53 320.83,234.69 321.60,235.30 C322.37,235.91 323.13,236.32 323.90,236.70 C324.60,237.05 325.30,237.31 326.00,237.60 C327.43,238.19 328.87,239.09 330.30,239.30 C332.17,239.58 334.03,239.50 335.90,239.80 C336.63,239.92 337.37,240.28 338.10,240.70 C338.97,241.20 339.83,242.16 340.70,243.30 C341.40,244.22 342.10,245.93 342.80,247.20 C343.53,248.53 344.27,249.87 345.00,251.10 C345.73,252.33 346.47,253.50 347.20,254.60 C347.90,255.65 348.60,256.47 349.30,257.60 C350.03,258.78 350.77,260.73 351.50,261.70 C352.43,262.93 353.37,263.92 354.30,264.50 C355.43,265.20 356.57,265.68 357.70,266.00 C359.57,266.52 361.43,266.81 363.30,267.10 C365.13,267.38 366.97,267.60 368.80,267.80 C371.20,268.07 373.60,268.24 376.00,268.50 C381.53,269.10 387.07,270.26 392.60,270.60 C398.40,270.96 404.20,271.29 410.00,271.30 C463.17,271.39 516.33,271.40 569.50,271.40" stroke="#de64eb" stroke-opacity="0.8" stroke-width="0.85" fill="none" stroke-linejoin="round"/>
<rect x="149.4" y="14.3" width="532.1" height="301.9" fill="none" stroke="#8e888d" stroke-width="1.3"/>
<g font-size="9.2" fill="#383838">
<text x="140.3" y="71.2" text-anchor="end">Blank</text>
<text x="141.8" y="102.1" text-anchor="end">Microbialite (2800 a)</text>
<text x="140.8" y="128.9" text-anchor="end">Microbialites (2800 a), 0.86 MGy</text>
<text x="141.8" y="159.2" text-anchor="end">Microbialites (2800 a), 10 MGy</text>
<text x="141.8" y="186.4" text-anchor="end">Stromatolites (541 Ma)</text>
<text x="141.8" y="217.3" text-anchor="end">Stromatolites (541 Ma), 10 MGy</text>
<text x="141.8" y="244" text-anchor="end">Oxide iron (2930 Ma)</text>
<text x="141.8" y="274.1" text-anchor="end">Oxide iron (2930 Ma), 10 MGy</text>
<text x="141.8" y="300.9" text-anchor="end">Carbonate (2930 Ma)</text>
</g>
<g font-size="9.8" fill="#383838">
<text x="181.50" y="325.2" text-anchor="middle">0</text>
<text x="263.03" y="325.2" text-anchor="middle">1</text>
<text x="344.56" y="325.2" text-anchor="middle">2</text>
<text x="426.09" y="325.2" text-anchor="middle">3</text>
<text x="507.62" y="325.2" text-anchor="middle">4</text>
<text x="589.15" y="325.2" text-anchor="middle">5</text>
<text x="670.68" y="325.2" text-anchor="middle">6</text>
</g>
<text x="414" y="342.4" font-size="10.1" fill="#383838" text-anchor="middle">Log-transformed read length</text>
</g>
</svg>
</body></html>
